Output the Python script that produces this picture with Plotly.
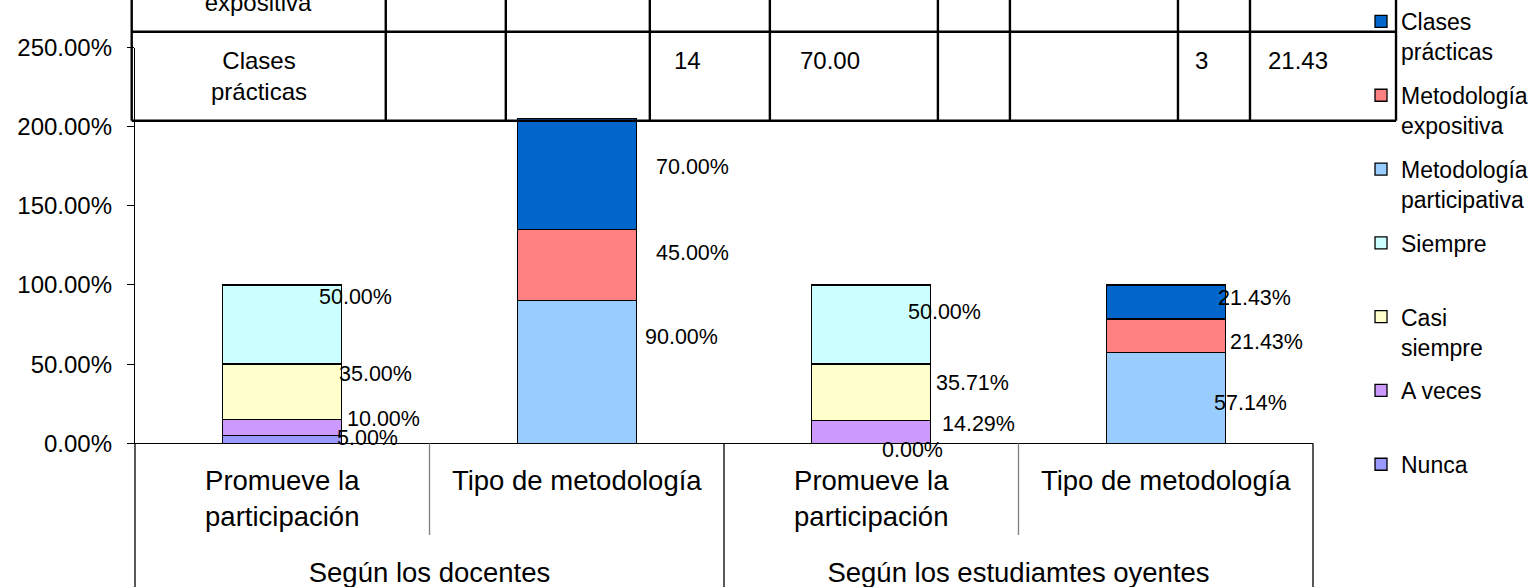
import plotly.graph_objects as go

# ---------------- data ----------------
group_labels = ["Según los docentes", "Según los docentes",
                "Según los estudiamtes oyentes", "Según los estudiamtes oyentes"]
sub_labels = ["Promueve la<br>participación", "Tipo de metodología",
              "Promueve la<br>participación", "Tipo de metodología"]

series_names = ["Nunca", "A veces", "Casi siempre", "Siempre",
                "Metodología participativa", "Metodología expositiva", "Clases prácticas"]
legend_labels = ["Nunca", "A veces<br>&nbsp;", "Casi<br>siempre", "Siempre<br>&nbsp;",
                 "Metodología<br>participativa", "Metodología<br>expositiva", "Clases<br>prácticas"]

nunca = [5.00, None, 0.00, None]
a_veces = [10.00, None, 14.29, None]
casi_siempre = [35.00, None, 35.71, None]
siempre = [50.00, None, 50.00, None]
met_participativa = [None, 90.00, None, 57.14]
met_expositiva = [None, 45.00, None, 21.43]
clases_practicas = [None, 70.00, None, 21.43]
series_values = [nunca, a_veces, casi_siempre, siempre,
                 met_participativa, met_expositiva, clases_practicas]

y_tick_values = [0, 50, 100, 150, 200, 250]

table_row_labels = ["Metodología<br>expositiva", "Clases<br>prácticas"]
table_row_values = [["", "", "", "", "", "", "", ""],
                    ["", "", "14", "70.00", "", "", "3", "21.43"]]

# ---------------- style ----------------
colors = ["#9999FF", "#CC99FF", "#FFFFCC", "#CCFFFF", "#99CCFF", "#FF8080", "#0066CC"]
FONT = "Liberation Sans, Arial, sans-serif"

FIG_W, FIG_H = 1539, 587
M_L, M_R, M_T, M_B = 135.3, 226, 0, 90
PLOT_W = FIG_W - M_L - M_R
PLOT_H = FIG_H - M_T - M_B
N_CAT = len(sub_labels)
AXIS_PX = 443.3      # pixel row of the 0 % line
TOP_PX = 47.5        # pixel row of the 250 % line


def px_x(p):
    return (p - M_L) / PLOT_W


def px_y(p):
    return (FIG_H - M_B - p) / PLOT_H


# label offsets (pixels right, pixels down) from (bar centre, segment middle)
label_offsets = {
    (0, 0): (85.5, -1.6), (1, 0): (101.5, -8.5), (2, 0): (93.5, -17.5), (3, 0): (73.3, -27.9),
    (4, 1): (104.6, -35.4), (5, 1): (116, -12.5), (6, 1): (116, -7.4),
    (0, 2): (41.7, 6.7), (1, 2): (107.7, -8.0), (2, 2): (101.7, -9.7), (3, 2): (73.7, -12.9),
    (4, 3): (84.3, 5.2), (5, 3): (100.3, 5.8), (6, 3): (88.8, -3.7),
}

TABLE_COL_EDGES = [132, 386, 506, 650, 770, 938, 1010, 1178, 1250, 1396]
TABLE_ROW_EDGES = [-58.3, 31.7, 120.7]
TABLE_VALUE_PAD = [20, 20, 21.7, 28, 20, 20, 15.3, 16]

fig = go.Figure()
n_series = len(series_names)
for i, (name, leg, vals, col) in enumerate(zip(series_names, legend_labels, series_values, colors)):
    fig.add_trace(go.Bar(
        x=[["<br>" + g for g in group_labels], sub_labels], y=vals, name=leg,
        legendgroup=name, legendrank=n_series - i,
        marker=dict(color=col, line=dict(color="black", width=1.3)),
        hovertemplate=name + ": %{y:.2f}%<extra></extra>",
    ))

annotations = []
# data labels
bases = [0.0] * N_CAT
for si, vals in enumerate(series_values):
    for ci, v in enumerate(vals):
        if v is None:
            continue
        mid = bases[ci] + v / 2
        bases[ci] += v
        dx, dy = label_offsets[(si, ci)]
        annotations.append(dict(
            x=(ci + 0.5) / N_CAT, xref="paper", xanchor="center",
            y=mid, yref="y", yanchor="middle",
            text=f"{v:.2f}%", showarrow=False, xshift=dx, yshift=-dy,
            font=dict(family=FONT, size=21.5, color="black"),
        ))

# table (drawn as grid lines and text)
shapes = []
tx0, tx1 = px_x(TABLE_COL_EDGES[0]), px_x(TABLE_COL_EDGES[-1])
for ry in TABLE_ROW_EDGES[1:]:
    shapes.append(dict(type="line", xref="paper", yref="paper", x0=tx0, x1=tx1,
                       y0=px_y(ry), y1=px_y(ry), line=dict(color="black", width=2.4), layer="above"))
for cx in TABLE_COL_EDGES:
    shapes.append(dict(type="line", xref="paper", yref="paper", x0=px_x(cx), x1=px_x(cx),
                       y0=px_y(TABLE_ROW_EDGES[0]), y1=px_y(TABLE_ROW_EDGES[-1]),
                       line=dict(color="black", width=2.4), layer="above"))
for ri, (lab, rvals) in enumerate(zip(table_row_labels, table_row_values)):
    r_top, r_bot = TABLE_ROW_EDGES[ri], TABLE_ROW_EDGES[ri + 1]
    annotations.append(dict(
        x=px_x((TABLE_COL_EDGES[0] + TABLE_COL_EDGES[1]) / 2), xref="paper", xanchor="center",
        y=px_y((r_top + r_bot) / 2), yref="paper", yanchor="middle", text=lab, showarrow=False,
        font=dict(family=FONT, size=24, color="black"), align="center"))
    for k, val in enumerate(rvals):
        if not val:
            continue
        annotations.append(dict(
            x=px_x(TABLE_COL_EDGES[k + 1] + TABLE_VALUE_PAD[k]), xref="paper", xanchor="left",
            y=px_y(r_top + 28.6), yref="paper", yanchor="middle", text=val, showarrow=False,
            font=dict(family=FONT, size=24, color="black")))

# category dividers below the axis
for k in range(N_CAT + 1):
    full = (k % 2 == 0)
    shapes.append(dict(type="line", xref="paper", yref="paper", x0=k / N_CAT, x1=k / N_CAT,
                       y0=px_y(AXIS_PX), y1=px_y(FIG_H if full else 535),
                       line=dict(color="black" if full else "#808080", width=1.3)))

fig.update_layout(
    width=FIG_W, height=FIG_H,
    margin=dict(l=M_L, r=M_R, t=M_T, b=M_B, autoexpand=False),
    paper_bgcolor="white", plot_bgcolor="white",
    barmode="stack", bargap=0.596,
    font=dict(family=FONT, color="black"),
    showlegend=True,
    legend=dict(x=px_x(1361), xanchor="left", y=px_y(0), yanchor="top",
                traceorder="grouped", tracegroupgap=11, valign="top",
                font=dict(family=FONT, size=23, color="black"),
                bgcolor="rgba(0,0,0,0)", borderwidth=0),
    xaxis=dict(type="multicategory", showline=True, linecolor="black", linewidth=1.3,
               ticks="", showdividers=False, showgrid=False,
               tickfont=dict(family=FONT, size=27.5, color="black"), ticklabelstandoff=13),
    yaxis=dict(range=[0, 250], domain=[px_y(AXIS_PX), px_y(TOP_PX)],
               tickvals=y_tick_values, ticktext=[f"{v:.2f}%" for v in y_tick_values],
               ticks="outside", ticklen=7, tickcolor="black", tickwidth=1.2,
               showline=True, linecolor="black", linewidth=1.3, showgrid=False, zeroline=False,
               tickfont=dict(family=FONT, size=24, color="black"), ticklabelstandoff=10),
    annotations=annotations, shapes=shapes,
)

fig.write_html("out.html", config={"displayModeBar": False},
               post_script="document.body.style.margin='0';")
